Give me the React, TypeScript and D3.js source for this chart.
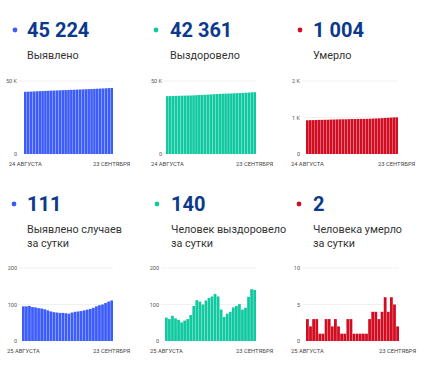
import React from "react";
import * as d3 from "d3";

const casesTotal = [42574, 42669, 42764, 42860, 42953, 43045, 43135, 43224, 43311, 43395, 43476, 43555, 43633, 43710, 43787, 43863, 43938, 44016, 44096, 44177, 44259, 44343, 44429, 44517, 44608, 44703, 44801, 44901, 45005, 45113, 45224];
const recoveredTotal = [39616, 39680, 39740, 39809, 39871, 39929, 39980, 40036, 40096, 40167, 40263, 40375, 40483, 40583, 40694, 40812, 40934, 41063, 41185, 41271, 41337, 41412, 41492, 41584, 41680, 41781, 41867, 41958, 42079, 42221, 42361];
const deathsTotal = [924, 927, 929, 932, 935, 936, 937, 940, 943, 945, 948, 950, 951, 952, 955, 958, 959, 960, 961, 962, 963, 966, 970, 974, 977, 981, 987, 991, 997, 1002, 1004];

const casesDaily = [95, 95, 96, 93, 92, 90, 89, 87, 84, 81, 79, 78, 77, 77, 76, 75, 78, 80, 81, 82, 84, 86, 88, 91, 95, 98, 100, 104, 108, 111];
const recoveredDaily = [64, 60, 69, 62, 58, 51, 56, 60, 71, 96, 112, 108, 100, 111, 118, 122, 129, 122, 86, 66, 75, 80, 92, 96, 101, 86, 91, 121, 142, 140];
const deathsDaily = [3, 2, 3, 3, 1, 1, 3, 3, 2, 3, 2, 1, 1, 3, 3, 1, 1, 1, 1, 1, 3, 4, 4, 3, 4, 6, 4, 6, 5, 2];

const headlines = ["45 224", "42 361", "1 004", "111", "140", "2"];
const titles = [["Выявлено"], ["Выздоровело"], ["Умерло"], ["Выявлено случаев", "за сутки"], ["Человек выздоровело", "за сутки"], ["Человека умерло", "за сутки"]];
const startLabelTop = "24 АВГУСТА";
const startLabelBottom = "25 АВГУСТА";
const endLabel = "23 СЕНТЯБРЯ";

const ticksBigK = [0, 50000];
const ticksBigKLabels = ["0", "50 K"];
const ticksDeathK = [0, 1000, 2000];
const ticksDeathKLabels = ["0", "1 K", "2 K"];
const ticks200 = [0, 100, 200];
const ticks200Labels = ["0", "100", "200"];
const ticks10 = [0, 5, 10];
const ticks10Labels = ["0", "5", "10"];

const BLUE = "#3c5cfb";
const TEAL = "#10c9a0";
const RED = "#d20d22";
const NUM = "#0b3a8c";
const FONT = "Roboto, 'Noto Sans', sans-serif";

type Panel = {
  data: number[];
  max: number;
  ticks: number[];
  tickLabels: string[];
  color: string;
  headline: string;
  title: string[];
  dotX: number;
  textX: number;
  labelRight: number;
  gridStart: number;
  plotLeft: number;
  plotRight: number;
  row: number;
  startLabel: string;
};

const panels: Panel[] = [
  { data: casesTotal, max: 50000, ticks: ticksBigK, tickLabels: ticksBigKLabels, color: BLUE, headline: headlines[0], title: titles[0], dotX: 15, textX: 27, labelRight: 17, gridStart: 18, plotLeft: 24, plotRight: 113, row: 0, startLabel: startLabelTop },
  { data: recoveredTotal, max: 50000, ticks: ticksBigK, tickLabels: ticksBigKLabels, color: TEAL, headline: headlines[1], title: titles[1], dotX: 156, textX: 170, labelRight: 162, gridStart: 164, plotLeft: 166, plotRight: 256, row: 0, startLabel: startLabelTop },
  { data: deathsTotal, max: 2000, ticks: ticksDeathK, tickLabels: ticksDeathKLabels, color: RED, headline: headlines[2], title: titles[2], dotX: 300, textX: 313, labelRight: 300, gridStart: 303, plotLeft: 306, plotRight: 398, row: 0, startLabel: startLabelTop },
  { data: casesDaily, max: 200, ticks: ticks200, tickLabels: ticks200Labels, color: BLUE, headline: headlines[3], title: titles[3], dotX: 14, textX: 27, labelRight: 17, gridStart: 18, plotLeft: 22, plotRight: 113, row: 1, startLabel: startLabelBottom },
  { data: recoveredDaily, max: 200, ticks: ticks200, tickLabels: ticks200Labels, color: TEAL, headline: headlines[4], title: titles[4], dotX: 157, textX: 171, labelRight: 159, gridStart: 161, plotLeft: 165, plotRight: 256, row: 1, startLabel: startLabelBottom },
  { data: deathsDaily, max: 10, ticks: ticks10, tickLabels: ticks10Labels, color: RED, headline: headlines[5], title: titles[5], dotX: 299, textX: 313, labelRight: 300, gridStart: 303, plotLeft: 306, plotRight: 399, row: 1, startLabel: startLabelBottom },
];

const rows = [
  { dotY: 30, numBase: 37, titleBase: 59, lineGap: 14, plotTop: 81, plotBottom: 154, xLabelBase: 165.5 },
  { dotY: 204, numBase: 211, titleBase: 233, lineGap: 14, plotTop: 268, plotBottom: 341, xLabelBase: 352.5 },
];

function PanelView({ p }: { p: Panel }) {
  const r = rows[p.row];
  const x = d3.scaleBand<number>().domain(d3.range(p.data.length)).range([p.plotLeft, p.plotRight]).paddingInner(0.1).paddingOuter(0);
  const y = d3.scaleLinear().domain([0, p.max]).range([r.plotBottom, r.plotTop]);
  const first = (x(0) ?? 0) + x.bandwidth() / 2;
  const last = (x(p.data.length - 1) ?? 0) + x.bandwidth() / 2;
  return (
    <g>
      <circle cx={p.dotX} cy={r.dotY} r={2.4} fill={p.color} />
      <text x={p.textX} y={r.numBase} fontSize={20} fontWeight={700} fill={NUM} fontFamily={FONT}>{p.headline}</text>
      {p.title.map((t, i) => (
        <text key={i} x={p.textX} y={r.titleBase + i * r.lineGap} fontSize={10.8} fill="#333" fontFamily={FONT}>{t}</text>
      ))}
      {p.ticks.map((t, i) => (
        <g key={i}>
          {t > 0 && <line x1={p.gridStart} x2={p.plotRight} y1={y(t)} y2={y(t)} stroke="#ececec" strokeWidth={0.8} />}
          <text x={p.labelRight} y={y(t) + 2} fontSize={5.5} fill="#555" textAnchor="end" fontFamily={FONT}>{p.tickLabels[i]}</text>
        </g>
      ))}
      {p.data.map((v, i) => (
        <rect key={i} x={x(i)} y={y(v)} width={x.bandwidth()} height={y(0) - y(v)} fill={p.color} />
      ))}
      <text x={first} y={r.xLabelBase} fontSize={5.8} fill="#444" textAnchor="middle" fontFamily={FONT}>{p.startLabel}</text>
      <text x={last} y={r.xLabelBase} fontSize={5.8} fill="#444" textAnchor="middle" fontFamily={FONT}>{endLabel}</text>
    </g>
  );
}

export default function App() {
  return (
    <svg width={430} height={367} style={{ position: "absolute", left: 0, top: 0, background: "#fff" }}>
      <rect width={430} height={367} fill="#fff" />
      {panels.map((p, i) => (
        <PanelView key={i} p={p} />
      ))}
    </svg>
  );
}
